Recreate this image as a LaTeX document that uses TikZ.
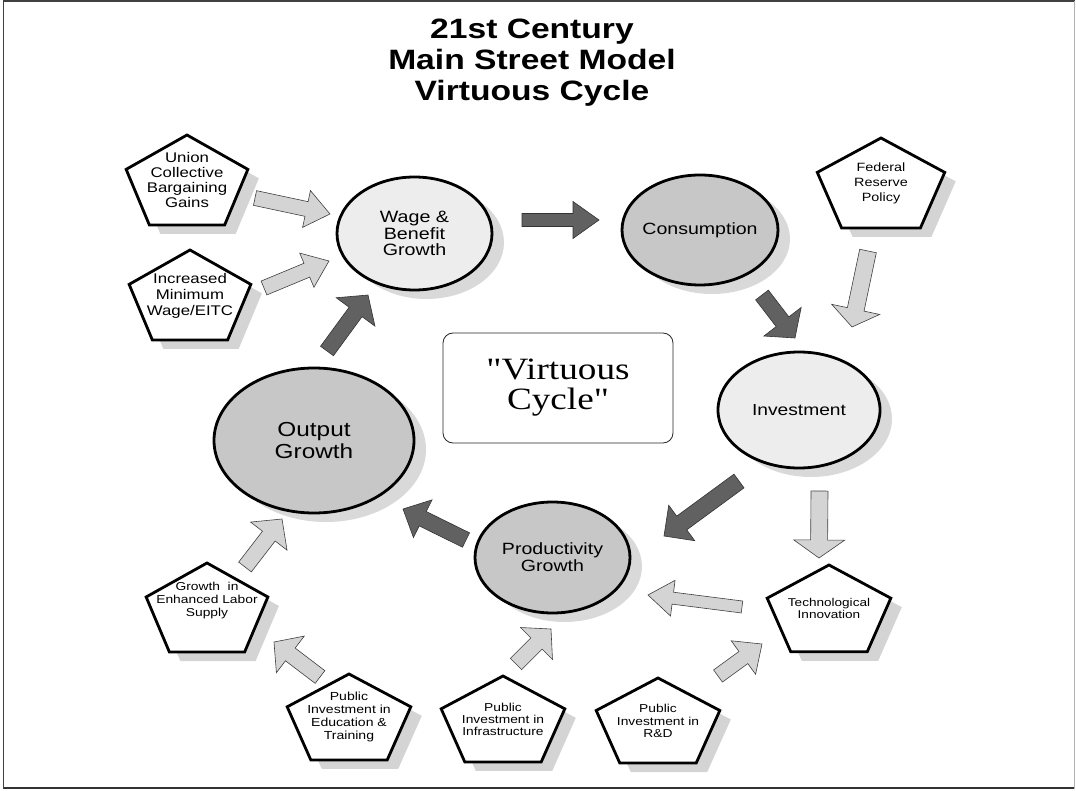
\documentclass[tikz,border=0pt]{standalone}
\usepackage{fontspec}
\setmainfont{Liberation Sans}
\newfontfamily\arialx[FakeStretch=1.2]{Liberation Sans}
\newfontfamily\timesx[FakeStretch=1.2]{Liberation Serif}
\usetikzlibrary{calc}
\newcommand\fs[2]{\fontsize{#1}{#2}\selectfont}
% block arrow: style, tail, tip, shaft half width, head half width, head length
\newcommand\fatarrow[6]{%
  \coordinate (fa-n) at ($(#3)!#6pt!(#2)$);
  \draw[#1] ($(#2)!#4pt!90:(#3)$) -- ($(fa-n)!#4pt!90:(#3)$) -- ($(fa-n)!#5pt!90:(#3)$) -- (#3)
    -- ($(fa-n)!#5pt!-90:(#3)$) -- ($(fa-n)!#4pt!-90:(#3)$) -- ($(#2)!#4pt!-90:(#3)$) -- cycle;
}
% pentagon: name, cx, cy, Rx, Ry, text y, font size, skip, text
\newcommand\pent[9]{%
  \fill[pshadow] (#2+11,#3+9-#5) -- (#2+11+0.951*#4,#3+9-0.309*#5) -- (#2+11+0.588*#4,#3+9+0.809*#5)
    -- (#2+11-0.588*#4,#3+9+0.809*#5) -- (#2+11-0.951*#4,#3+9-0.309*#5) -- cycle;
  \draw[pentline] (#2,#3-#5) -- (#2+0.951*#4,#3-0.309*#5) -- (#2+0.588*#4,#3+0.809*#5)
    -- (#2-0.588*#4,#3+0.809*#5) -- (#2-0.951*#4,#3-0.309*#5) -- cycle;
  \node[txt, font=\arialx\fs{#7}{#8}] (#1) at (#2,#6) {#9};
}
% ellipse: name, style, cx, cy, rx, ry, font, text
\newcommand\ovalnode[8]{%
  \fill[eshadow] (#3+12,#4+9) ellipse [x radius=#5pt, y radius=#6pt];
  \draw[#2] (#3,#4) ellipse [x radius=#5pt, y radius=#6pt];
  \node[txt, font=#7] (#1) at (#3,#4) {#8};
}
\begin{document}
\begin{tikzpicture}[x=1pt,y=-1pt,
  pentline/.style={draw=black, line width=2.8pt, line join=miter, fill=white},
  pshadow/.style={fill=black!17},
  eshadow/.style={fill=black!15},
  elight/.style={draw=black, line width=2.8pt, fill=black!7},
  edark/.style={draw=black, line width=2.8pt, fill=black!22},
  darkarrow/.style={fill=black!62, draw=black!80, line width=0.6pt, line join=miter},
  lightarrow/.style={fill=black!17, draw=black!75, line width=0.6pt, line join=miter},
  txt/.style={align=center, inner sep=0pt},
  vbox/.style={draw=black!85, line width=0.8pt, rounded corners=10pt, minimum width=230pt, minimum height=110pt, align=center, inner sep=0pt}]
\useasboundingbox (0,0) rectangle (1076,791);
% frame
\draw[black!75, line width=1.2pt] (1075,1) -- (3.5,1) -- (3.5,789);
\draw[black!80, line width=2pt] (3.5,788) -- (1075,788);
\draw[black!30, line width=1.2pt] (1074.5,1) -- (1074.5,789);
% title
\node[txt, font=\arialx\bfseries\fs{28}{31}] (title) at (532,63) {21st Century\\Main Street Model\\Virtuous Cycle};
% centre box
\node[vbox, font=\timesx\fs{31}{30}] (vc) at (558,388) {"Virtuous\\Cycle"};
% ellipses
\ovalnode{wage}{elight}{414.5}{233.5}{77.5}{56.5}{\arialx\fs{16.4}{16.5}}{Wage \&\\Benefit\\Growth}
\ovalnode{cons}{edark}{700}{230}{78}{55}{\arialx\fs{16.3}{17}}{Consumption}
\ovalnode{inv}{elight}{799}{410}{81}{58}{\arialx\fs{16}{17}}{Investment}
\ovalnode{out}{edark}{314}{440.5}{100}{72.5}{\arialx\fs{20.3}{22}}{Output\\Growth}
\ovalnode{prod}{edark}{552.5}{557.5}{77.5}{55.5}{\arialx\fs{16.3}{17.3}}{Productivity\\Growth}
% pentagons
\pent{union}{187}{184.75}{64}{49.75}{179.5}{14}{15}{Union\\Collective\\Bargaining\\Gains}
\pent{minw}{190}{299.75}{64}{49.75}{295.5}{14}{16}{Increased\\Minimum\\Wage/EITC}
\pent{fed}{881}{187.75}{67}{49.75}{183}{12}{15}{Federal\\Reserve\\Policy}
\pent{labor}{207}{612.2}{64}{49.2}{601}{11.5}{13}{Growth~ in\\Enhanced Labor\\Supply}
\pent{educ}{349}{721.5}{65}{47.5}{717}{11.7}{12.7}{Public\\Investment in\\Education \&\\Training}
\pent{infra}{503}{723.5}{65}{47.5}{719}{11.5}{12}{Public\\Investment in\\Infrastructure}
\pent{rd}{658}{725}{65}{47}{721}{11.5}{12.5}{Public\\Investment in\\R\&D}
\pent{tech}{829}{613}{65}{48}{608}{11.3}{12}{Technological\\Innovation}
% arrow end points
\coordinate (a1t) at (522,220);   \coordinate (a1h) at (599,220);
\coordinate (a2t) at (762,295);   \coordinate (a2h) at (795,338);
\coordinate (a3t) at (739,481);   \coordinate (a3h) at (664,536);
\coordinate (a4t) at (466,540);   \coordinate (a4h) at (403,509);
\coordinate (a5t) at (327,351);   \coordinate (a5h) at (368,295);
\coordinate (l1t) at (255,198);   \coordinate (l1h) at (330,214);
\coordinate (l2t) at (264,288);   \coordinate (l2h) at (329,261);
\coordinate (l3t) at (868,251);   \coordinate (l3h) at (852,327);
\coordinate (l4t) at (819.5,491); \coordinate (l4h) at (819,558);
\coordinate (l5t) at (742,607);   \coordinate (l5h) at (648,595);
\coordinate (l6t) at (718,676);   \coordinate (l6h) at (762,644);
\coordinate (l7t) at (516,664);   \coordinate (l7h) at (551,629);
\coordinate (l8t) at (320,677);   \coordinate (l8h) at (274,642);
\coordinate (l9t) at (245,567);   \coordinate (l9h) at (282,519);
% dark cycle arrows
\fatarrow{darkarrow}{a1t}{a1h}{6.5}{18.5}{26}
\fatarrow{darkarrow}{a2t}{a2h}{8}{23.5}{20.5}
\fatarrow{darkarrow}{a3t}{a3h}{8.5}{22}{22}
\fatarrow{darkarrow}{a4t}{a4h}{8}{21}{22}
\fatarrow{darkarrow}{a5t}{a5h}{8}{24}{21}
% light input arrows
\fatarrow{lightarrow}{l1t}{l1h}{7.5}{18.8}{24}
\fatarrow{lightarrow}{l2t}{l2h}{7.5}{18.5}{24}
\fatarrow{lightarrow}{l3t}{l3h}{8.5}{24.5}{18}
\fatarrow{lightarrow}{l4t}{l4h}{8.5}{25.5}{18}
\fatarrow{lightarrow}{l5t}{l5h}{6}{18}{25}
\fatarrow{lightarrow}{l6t}{l6h}{7.5}{20.7}{23}
\fatarrow{lightarrow}{l7t}{l7h}{8}{22.6}{20.5}
\fatarrow{lightarrow}{l8t}{l8h}{8}{23}{20.5}
\fatarrow{lightarrow}{l9t}{l9h}{8}{23}{21.6}
\end{tikzpicture}
\end{document}
